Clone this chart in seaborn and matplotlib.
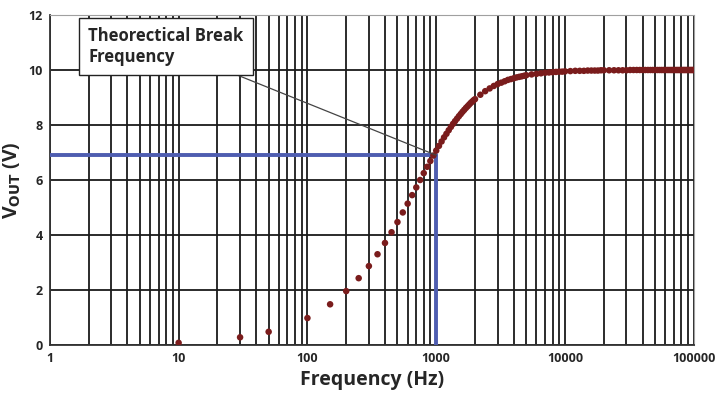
import matplotlib
matplotlib.use('Agg')
import pandas as pd
import seaborn as sns
import matplotlib.pyplot as plt
from matplotlib.ticker import FixedLocator, LogLocator, NullFormatter

freq = [10, 30, 50, 100, 150, 200, 250, 300, 350, 400, 450, 500, 550, 600, 650,
        700, 750, 800, 850, 900, 950, 1000,
        1050, 1100, 1150, 1200, 1250, 1300, 1350, 1400, 1450, 1500,
        1550, 1600, 1650, 1700, 1750, 1800, 1850, 1900, 1950, 2000,
        2200, 2400, 2600, 2800, 3000, 3200, 3400, 3600, 3800, 4000,
        4200, 4400, 4600, 4800, 5000,
        5500, 6000, 6500, 7000, 7500, 8000, 8500, 9000, 9500, 10000,
        11000, 12000, 13000, 14000, 15000, 16000, 17000, 18000, 19000, 20000,
        22000, 24000, 26000, 28000, 30000, 32000, 34000, 36000, 38000, 40000,
        42000, 44000, 46000, 48000, 50000, 52000, 54000, 56000, 58000, 60000,
        62000, 64000, 66000, 68000, 70000, 72000, 74000, 76000, 78000, 80000,
        82000, 84000, 86000, 88000, 90000, 92000, 94000, 96000, 98000, 100000]
vout = [0.08, 0.28, 0.48, 0.98, 1.48, 1.96, 2.43, 2.87, 3.30, 3.71, 4.10, 4.47, 4.82, 5.14, 5.45,
        5.73, 6.00, 6.25, 6.48, 6.69, 6.89, 7.07,
        7.24, 7.40, 7.55, 7.68, 7.81, 7.93, 8.04, 8.14, 8.23, 8.32,
        8.40, 8.48, 8.55, 8.62, 8.68, 8.74, 8.80, 8.85, 8.90, 8.94,
        9.10, 9.23, 9.33, 9.42, 9.49, 9.54, 9.59, 9.64, 9.67, 9.70,
        9.73, 9.75, 9.77, 9.79, 9.81,
        9.84, 9.86, 9.88, 9.90, 9.91, 9.92, 9.93, 9.94, 9.94, 9.95,
        9.96, 9.97, 9.97, 9.97, 9.98, 9.98, 9.98, 9.98, 9.99, 9.99,
        9.99, 9.99, 9.99, 9.99, 9.99, 10.0, 10.0, 10.0, 10.0, 10.0,
        10.0, 10.0, 10.0, 10.0, 10.0, 10.0, 10.0, 10.0, 10.0, 10.0,
        10.0, 10.0, 10.0, 10.0, 10.0, 10.0, 10.0, 10.0, 10.0, 10.0,
        10.0, 10.0, 10.0, 10.0, 10.0, 10.0, 10.0, 10.0, 10.0, 10.0]

break_freq = 1000
break_v = 6.9

x_ticks = [1, 10, 100, 1000, 10000, 100000]
x_tick_labels = ['1', '10', '100', '1000', '10000', '100000']
y_ticks = [0, 2, 4, 6, 8, 10, 12]

df = pd.DataFrame({'Frequency': freq, 'Vout': vout})

sns.set_style('white')
plt.rcParams['font.family'] = ['Open Sans', 'DejaVu Sans']

fig = plt.figure(figsize=(7.22, 4.0), dpi=100)
ax = fig.add_axes([0.069, 0.1375, 0.892, 0.825])

ax.set_xscale('log')
ax.set_xlim(1, 100000)
ax.set_ylim(0, 12)

# grid
ax.xaxis.set_major_locator(FixedLocator(x_ticks))
ax.xaxis.set_minor_locator(LogLocator(base=10, subs=range(2, 10)))
ax.xaxis.set_minor_formatter(NullFormatter())
ax.set_xticklabels(x_tick_labels)
ax.set_yticks(y_ticks)
ax.grid(True, which='both', axis='x', color='#1a1a1a', linewidth=1.3)
ax.grid(True, which='major', axis='y', color='#1a1a1a', linewidth=1.3)
ax.set_axisbelow(True)

# break frequency guide lines
ax.plot([1, break_freq], [break_v, break_v], color='#4E5DB0', linewidth=2.8, zorder=3)
ax.plot([break_freq, break_freq], [0, break_v], color='#4E5DB0', linewidth=2.8, zorder=3)

sns.scatterplot(data=df, x='Frequency', y='Vout', ax=ax, color='#7A1C1C',
                s=22, edgecolor='none', zorder=4, legend=False)

ax.annotate('Theorectical Break\nFrequency', xy=(break_freq, break_v),
            xytext=(0.06, 0.905), textcoords='axes fraction',
            fontsize=12, fontweight='bold', va='center', ha='left',
            linespacing=1.2,
            bbox=dict(boxstyle='square,pad=0.55', fc='white', ec='#222222', lw=1.0),
            arrowprops=dict(arrowstyle='-', color='#444444', lw=0.9,
                            shrinkA=0, shrinkB=0),
            zorder=5)

for side in ['top', 'right']:
    ax.spines[side].set_color('#a0a0a0')
for side in ['left', 'bottom']:
    ax.spines[side].set_color('#333333')
    ax.spines[side].set_linewidth(1.3)

ax.tick_params(axis='both', which='both', length=0, labelsize=9, pad=5)
for lbl in ax.get_xticklabels() + ax.get_yticklabels():
    lbl.set_fontweight('bold')

ax.set_xlabel('Frequency (Hz)', fontsize=14, fontweight='bold', labelpad=4)
ax.set_ylabel(r'V$_{\mathbf{OUT}}$ (V)', fontsize=14, fontweight='bold', labelpad=4)

plt.savefig('out.png', dpi=100)
